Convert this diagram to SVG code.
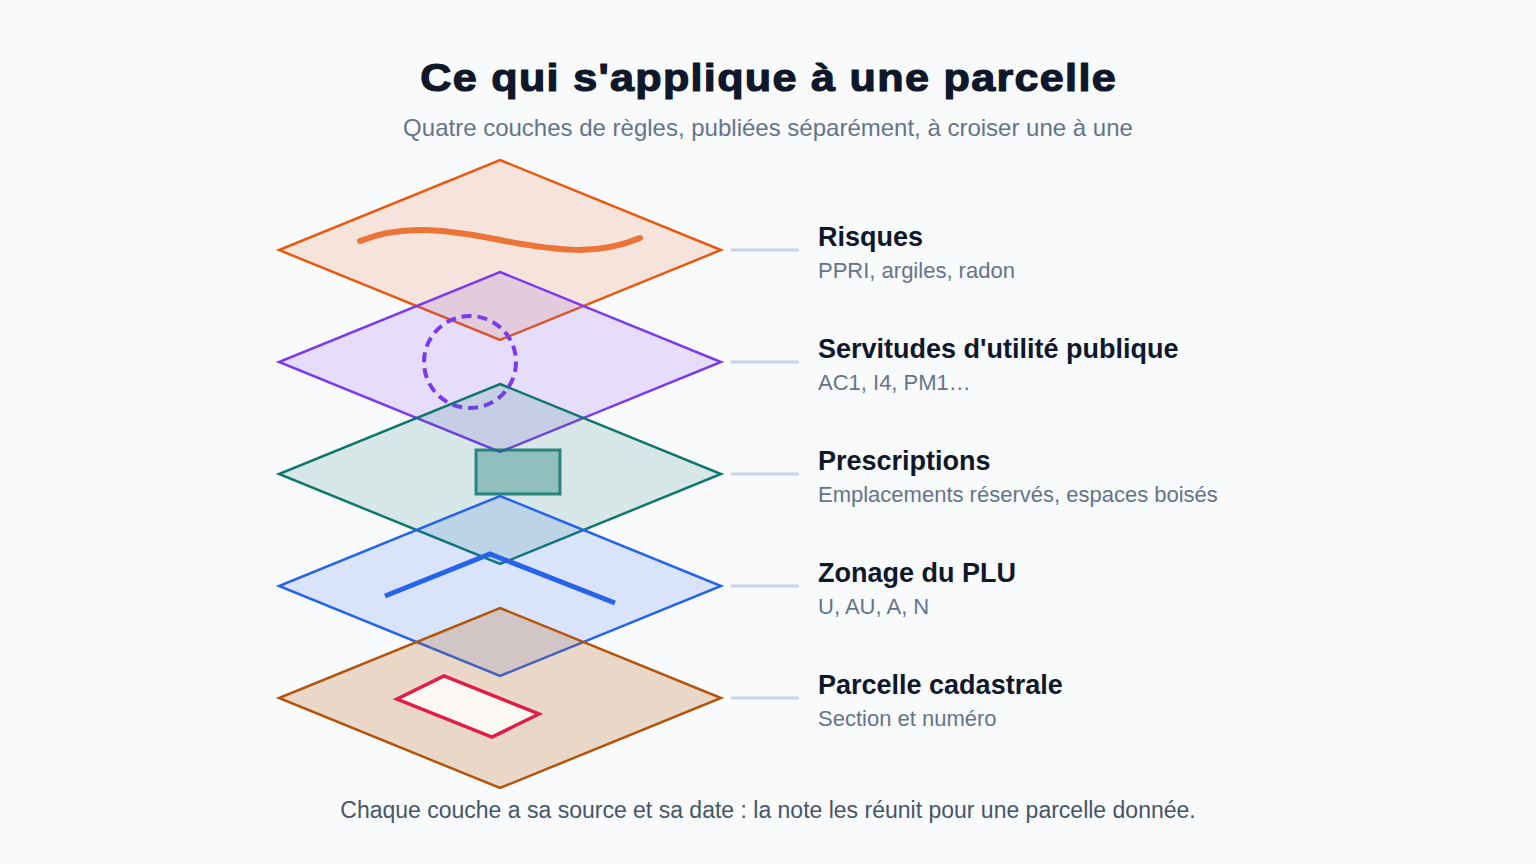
<svg xmlns="http://www.w3.org/2000/svg" width="1536" height="864" viewBox="0 0 1536 864">
<style>
.title{font-family:"Liberation Sans",Arial,sans-serif;font-weight:bold;font-size:39.5px;letter-spacing:1.2px;fill:#0f172a;stroke:#0f172a;stroke-width:1.2;stroke-linejoin:round}
.sub{font-family:"Liberation Sans",Arial,sans-serif;font-size:24px;fill:#64748b}
.foot{font-family:"Liberation Sans",Arial,sans-serif;font-size:23px;fill:#475569}
.lt{font-family:"Liberation Sans",Arial,sans-serif;font-weight:bold;font-size:27px;fill:#0f172a}
.ls{font-family:"Liberation Sans",Arial,sans-serif;font-size:22px;fill:#64748b}
.plate{stroke-width:2.5;stroke-linejoin:miter}
.conn{stroke:#cbd5e1;stroke-width:3;fill:none}
</style>
<rect width="1536" height="864" fill="#f8fafc"/>
<text class="title" transform="translate(768.6 91) scale(1.092 1)" x="0" y="0" text-anchor="middle">Ce qui s'applique à une parcelle</text>
<text class="sub" x="768" y="136" text-anchor="middle">Quatre couches de règles, publiées séparément, à croiser une à une</text>

<g id="layer-risques">
<polygon class="plate" points="500,160 721,250 500,340 279,250" fill="#ea580c" fill-opacity="0.135" stroke="#ea580c"/>
<path d="M360 241 C400 225 440 228 500 240 S600 255 640 238" fill="none" stroke="#ea580c" stroke-opacity="0.8" stroke-width="6" stroke-linecap="round"/>
</g>
<g id="layer-servitudes">
<polygon class="plate" points="500,272 721,362 500,452 279,362" fill="#7c3aed" fill-opacity="0.15" stroke="#7c3aed"/>
<circle cx="470" cy="362" r="46" fill="none" stroke="#7c3aed" stroke-width="4" stroke-dasharray="10 6"/>
</g>
<g id="layer-prescriptions">
<polygon class="plate" points="500,384 721,474 500,564 279,474" fill="#0f766e" fill-opacity="0.14" stroke="#0f766e"/>
<rect x="476" y="450" width="84" height="44" fill="#0f766e" fill-opacity="0.35" stroke="#0f766e" stroke-opacity="0.85" stroke-width="3"/>
</g>
<g id="layer-zonage">
<polygon class="plate" points="500,496 721,586 500,676 279,586" fill="#2563eb" fill-opacity="0.145" stroke="#2563eb"/>
<polyline points="385,596 490,554 615,603" fill="none" stroke="#2563eb" stroke-width="5"/>
</g>
<g id="layer-parcelle">
<polygon class="plate" points="500,608 721,698 500,788 279,698" fill="#b45309" fill-opacity="0.21" stroke="#b45309"/>
<polygon points="397,699 444,676 539,714 492,737" fill="#fcf8f3" stroke="#e11d48" stroke-width="3.5"/>
</g>

<g id="connectors">
<line class="conn" x1="731" y1="250" x2="799" y2="250"/>
<line class="conn" x1="731" y1="362" x2="799" y2="362"/>
<line class="conn" x1="731" y1="474" x2="799" y2="474"/>
<line class="conn" x1="731" y1="586" x2="799" y2="586"/>
<line class="conn" x1="731" y1="698" x2="799" y2="698"/>
</g>

<g id="label-risques">
<text class="lt" x="818" y="245.5">Risques</text>
<text class="ls" x="818" y="277.5">PPRI, argiles, radon</text>
</g>
<g id="label-servitudes">
<text class="lt" x="818" y="357.5">Servitudes d'utilité publique</text>
<text class="ls" x="818" y="389.5">AC1, I4, PM1…</text>
</g>
<g id="label-prescriptions">
<text class="lt" x="818" y="469.5">Prescriptions</text>
<text class="ls" x="818" y="501.5">Emplacements réservés, espaces boisés</text>
</g>
<g id="label-zonage">
<text class="lt" x="818" y="581.5">Zonage du PLU</text>
<text class="ls" x="818" y="613.5">U, AU, A, N</text>
</g>
<g id="label-parcelle">
<text class="lt" x="818" y="693.5">Parcelle cadastrale</text>
<text class="ls" x="818" y="725.5">Section et numéro</text>
</g>

<text class="foot" x="768" y="818" text-anchor="middle">Chaque couche a sa source et sa date : la note les réunit pour une parcelle donnée.</text>
</svg>
